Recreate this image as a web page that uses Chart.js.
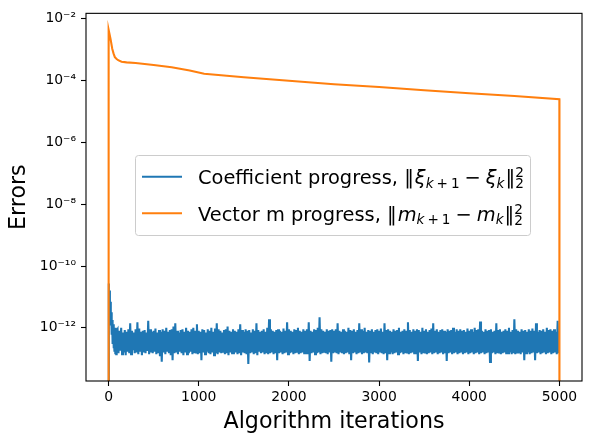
<!DOCTYPE html>
<html><head><meta charset="utf-8">
<script src="https://cdn.jsdelivr.net/npm/chart.js@4/dist/chart.umd.min.js"></script>
<style>html,body{margin:0;padding:0;background:#fff;}</style>
</head><body>
<canvas id="c" width="590" height="440"></canvas>
<script>
// ---- ticks & titles ----
const xTickValues = [0, 1000, 2000, 3000, 4000, 5000];
const yTickValues = [1e-2, 1e-4, 1e-6, 1e-8, 1e-10, 1e-12];
const yTickLabels = ['10⁻²', '10⁻⁴', '10⁻⁶', '10⁻⁸', '10⁻¹⁰', '10⁻¹²'];
const xTitle = 'Algorithm iterations';
const yTitle = 'Errors';
const seriesNames = ['Coefficient progress', 'Vector m progress'];
const seriesColors = ['#1f77b4', '#ff7f0e'];

// ---- orange: vector m progress (1e-20 = zero, below the axis floor) ----
const orangeIter = [0, 1, 10, 22, 41, 55, 70, 90, 107, 144, 200, 300, 500, 700, 900, 1060, 1500, 2000, 2500, 3000, 3500, 4000, 4500, 4999, 5000];
const orangeVals = [1e-20, 4.4e-3, 3.3e-3, 2.24e-3, 1.07e-3, 7.6e-4, 5.75e-4, 5.0e-4, 4.57e-4, 4.07e-4, 3.9e-4, 3.72e-4, 3.2e-4, 2.7e-4, 2.14e-4, 1.66e-4, 1.29e-4, 9.9e-5, 7.6e-5, 6.2e-5, 4.9e-5, 3.9e-5, 3.16e-5, 2.5e-5, 1e-20];

// ---- blue: coefficient progress, initial transient ----
const blueStartIter = [0, 1, 5, 10, 15, 20, 25, 30, 35, 40, 45, 50, 55, 60, 65, 70, 75, 80, 85, 90];
const blueStartVals = [1e-20, 2.7e-11, 4e-12, 1.6e-11, 2.5e-12, 7e-12, 1.2e-12, 3.2e-12, 6e-13, 1.8e-12, 3e-13, 1.3e-12, 2.2e-13, 1.1e-12, 1.8e-13, 9e-13, 1.5e-13, 1.0e-12, 1.4e-13, 8e-13];

// ---- blue: noise floor, sampled every 10 iterations from 100 to 4990 ----
const blueNoiseStart = 100;
const blueNoiseStep = 10;
const blueNoiseVals = [
9e-13,1.5e-13,8e-13,1.8e-13,1.0e-12,1.4e-13,7e-13,1.6e-13,8.5e-13,1.3e-13,
7.5e-13,1.7e-13,9e-13,1.5e-13,1.4e-12,1.4e-13,8e-13,1.9e-13,7e-13,1.5e-13,
9e-13,1.6e-13,1.5e-12,1.4e-13,9.5e-13,1.7e-13,7.5e-13,1.3e-13,8e-13,1.6e-13,
8.5e-13,1.5e-13,7e-13,1.8e-13,1.7e-12,1.4e-13,9e-13,1.6e-13,7.5e-13,1.5e-13,
8e-13,1.7e-13,9.5e-13,1.4e-13,7e-13,1.5e-13,8.5e-13,1.2e-13,7.5e-13,8e-14,
9e-13,1.6e-13,8e-13,1.4e-13,1.0e-12,1.7e-13,7.5e-13,1.5e-13,8.5e-13,1.3e-13,
9e-13,9e-14,1.1e-12,1.5e-13,1.4e-12,1.6e-13,8e-13,1.4e-13,7e-13,1.7e-13,
8.5e-13,1.5e-13,9e-13,1.3e-13,7.5e-13,1.6e-13,1.0e-12,1.4e-13,8e-13,1.5e-13,
7.5e-13,1.7e-13,9e-13,1.4e-13,1.0e-12,1.5e-13,8e-13,1.6e-13,1.3e-12,1.4e-13,
8e-13,1.5e-13,7.5e-13,9e-14,9e-13,1.6e-13,8.5e-13,1.4e-13,7e-13,1.7e-13,
9e-13,1.5e-13,8e-13,1.4e-13,1.0e-12,1.6e-13,7.5e-13,1.3e-13,9.5e-13,1.5e-13,
1.4e-12,1.4e-13,9e-13,1.6e-13,8e-13,1.5e-13,7e-13,1.7e-13,8.5e-13,1.4e-13,
9e-13,1.5e-13,1.1e-12,1.3e-13,8e-13,1.6e-13,7.5e-13,1.5e-13,9e-13,1.4e-13,
8e-13,1.6e-13,7.5e-13,1.4e-13,9e-13,1.5e-13,1.3e-12,1.3e-13,8.5e-13,1.6e-13,
7.5e-13,1.5e-13,9e-13,1.4e-13,8e-13,6.8e-14,8.5e-13,1.5e-13,7e-13,1.6e-13,
9e-13,1.4e-13,8e-13,1.5e-13,1.4e-12,1.3e-13,8.5e-13,1.7e-13,7.5e-13,1.5e-13,
8e-13,1.6e-13,9e-13,1.4e-13,7.5e-13,1.5e-13,1.0e-12,1.4e-13,1.9e-12,1.5e-13,
9e-13,1.6e-13,8e-13,1.4e-13,7.5e-13,1.5e-13,8.5e-13,9e-14,9e-13,1.5e-13,
8e-13,1.6e-13,7.5e-13,1.4e-13,9.5e-13,1.5e-13,8e-13,1.6e-13,1.5e-12,1.4e-13,
9e-13,1.5e-13,8e-13,1.6e-13,7.5e-13,1.4e-13,9e-13,1.5e-13,8.5e-13,1.7e-13,
1.0e-12,1.4e-13,8e-13,1.5e-13,7.5e-13,1.6e-13,9e-13,1.4e-13,8e-13,1.5e-13,
9e-13,1.4e-13,1.5e-12,8.5e-14,8e-13,1.5e-13,7.5e-13,1.6e-13,9e-13,1.4e-13,
8.5e-13,1.5e-13,1.0e-12,1.6e-13,2.2e-12,1.4e-13,9e-13,1.5e-13,8e-13,1.7e-13,
7.5e-13,1.5e-13,9e-13,1.4e-13,8e-13,1.6e-13,8.5e-13,8e-14,9e-13,1.5e-13,
8e-13,1.6e-13,9e-13,1.5e-13,1.4e-12,1.4e-13,8e-13,1.6e-13,7.5e-13,1.5e-13,
9e-13,1.4e-13,8e-13,1.5e-13,7.5e-13,1.6e-13,1.0e-12,1.4e-13,8.5e-13,9e-14,
8e-13,1.5e-13,9e-13,1.6e-13,7.5e-13,1.4e-13,8.5e-13,1.5e-13,1.4e-12,1.6e-13,
9e-13,1.4e-13,8e-13,1.5e-13,1.0e-12,1.6e-13,7.5e-13,1.5e-13,8.5e-13,7.5e-14,
8e-13,1.5e-13,9e-13,1.4e-13,7.5e-13,1.6e-13,8.5e-13,1.5e-13,9e-13,1.4e-13,
8e-13,1.6e-13,9.5e-13,1.5e-13,7.5e-13,1.4e-13,1.4e-12,1.5e-13,8.5e-13,9e-14,
9e-13,1.5e-13,8e-13,1.6e-13,7.5e-13,1.4e-13,9e-13,1.5e-13,8e-13,1.6e-13,
8.5e-13,1.4e-13,1.0e-12,1.5e-13,7.5e-13,1.6e-13,8e-13,1.4e-13,9e-13,1.5e-13,
8e-13,1.6e-13,1.5e-12,1.4e-13,8.5e-13,1.5e-13,7.5e-13,1.6e-13,9e-13,1.4e-13,
8e-13,1.5e-13,9e-13,8.5e-14,8.5e-13,1.6e-13,7.5e-13,1.4e-13,1.0e-12,1.5e-13,
8e-13,1.6e-13,9e-13,1.4e-13,7.5e-13,1.5e-13,8.5e-13,1.6e-13,9.5e-13,1.4e-13,
1.4e-12,1.5e-13,8e-13,1.6e-13,9e-13,1.4e-13,7.5e-13,1.5e-13,8.5e-13,1.6e-13,
9e-13,1.4e-13,8e-13,1.5e-13,7.5e-13,8.5e-14,9e-13,1.5e-13,8e-13,1.6e-13,
8.5e-13,1.4e-13,1.0e-12,1.5e-13,7.5e-13,1.6e-13,9e-13,1.4e-13,8e-13,1.5e-13,
9e-13,1.6e-13,8e-13,1.4e-13,8.5e-13,1.5e-13,7.5e-13,1.6e-13,9.5e-13,1.4e-13,
8e-13,1.5e-13,9e-13,1.6e-13,7.5e-13,1.4e-13,1.0e-12,1.5e-13,8.5e-13,1.6e-13,
9e-13,1.4e-13,1.6e-12,1.5e-13,8e-13,1.6e-13,7.5e-13,1.4e-13,9e-13,1.5e-13,
8e-13,1.6e-13,8.5e-13,7.8e-14,9e-13,1.5e-13,7.5e-13,1.6e-13,8e-13,1.4e-13,
1.4e-12,1.5e-13,8.5e-13,1.6e-13,9e-13,1.4e-13,7.5e-13,1.5e-13,8e-13,1.6e-13,
9e-13,1.4e-13,8e-13,1.5e-13,1.0e-12,1.6e-13,7.5e-13,1.4e-13,8.5e-13,1.5e-13,
1.9e-12,1.4e-13,9e-13,1.6e-13,8e-13,1.5e-13,7.5e-13,1.4e-13,9e-13,1.6e-13,
8e-13,9e-14,8.5e-13,1.5e-13,7.5e-13,1.6e-13,9e-13,1.4e-13,8e-13,1.5e-13,
9.5e-13,1.6e-13,8e-13,9e-14,1.4e-12,1.5e-13,7.5e-13,1.6e-13,8.5e-13,1.4e-13,
8e-13,1.5e-13,9e-13,1.6e-13,7.5e-13,1.4e-13,1.0e-12,1.5e-13,8.5e-13,1.6e-13,
9e-13,1.4e-13,8e-13,1.5e-13,9e-13,1.6e-13,7.5e-13,1.4e-13,1.7e-12,1.5e-13
];

// ---- legend label pieces: [text, style(n/i), position, gap before] ----
const legendPieces = [
  [['Coefficient progress, ','n','',0],['‖','n','',0],['ξ','i','',1],['k','i','sub',0],['+','n','sub',3],['1','n','sub',3],['−','n','',5],['ξ','i','',5],['k','i','sub',0],['‖','n','',1],['2','n','supsub',0]],
  [['Vector m progress, ','n','',0],['‖','n','',0],['m','i','',1],['k','i','sub',0],['+','n','sub',3],['1','n','sub',3],['−','n','',5],['m','i','',5],['k','i','sub',0],['‖','n','',1],['2','n','supsub',0]]
];

// ---- build datasets ----
const blueData = blueStartIter.map((x, i) => ({x: x, y: blueStartVals[i]}))
  .concat(blueNoiseVals.map((v, i) => ({x: blueNoiseStart + i * blueNoiseStep, y: v})));
const orangeData = orangeIter.map((x, i) => ({x: x, y: orangeVals[i]}));

const FONT = 'DejaVu Sans';
const LW = 2.08;

const framePlugin = {
  id: 'frame',
  afterDatasetsDraw(chart) {
    const {ctx, chartArea: a} = chart;
    ctx.save();
    ctx.strokeStyle = '#000';
    ctx.lineWidth = 1.1;
    ctx.strokeRect(a.left, a.top, a.right - a.left, a.bottom - a.top);
    ctx.restore();
  }
};

function drawPieces(ctx, pieces, x, baseline, size) {
  for (const [t, st, pos, gap] of pieces) {
    x += gap || 0;
    const fs = pos ? size * 0.7 : size;
    ctx.font = (st === 'i' ? 'italic ' : '') + fs + 'px "' + FONT + '"';
    if (pos === 'supsub') {
      ctx.fillText(t, x, baseline - size * 0.36);
      ctx.fillText(t, x, baseline + size * 0.22);
    } else {
      ctx.fillText(t, x, baseline + (pos === 'sub' ? size * 0.2 : 0));
    }
    x += ctx.measureText(t).width;
  }
}

const legendPlugin = {
  id: 'mplLegend',
  afterDraw(chart) {
    const ctx = chart.ctx;
    ctx.save();
    const bx = 135.5, by = 155.5, bw = 395, bh = 80, r = 3;
    ctx.beginPath();
    ctx.moveTo(bx + r, by);
    ctx.arcTo(bx + bw, by, bx + bw, by + bh, r);
    ctx.arcTo(bx + bw, by + bh, bx, by + bh, r);
    ctx.arcTo(bx, by + bh, bx, by, r);
    ctx.arcTo(bx, by, bx + bw, by, r);
    ctx.closePath();
    ctx.fillStyle = 'rgba(255,255,255,0.8)';
    ctx.fill();
    ctx.strokeStyle = '#cccccc';
    ctx.lineWidth = 1;
    ctx.stroke();
    const rowsY = [176.7, 213.3];
    const baselines = [183.8, 220.5];
    for (let i = 0; i < 2; i++) {
      ctx.strokeStyle = seriesColors[i];
      ctx.lineWidth = LW;
      ctx.beginPath();
      ctx.moveTo(142, rowsY[i]);
      ctx.lineTo(182, rowsY[i]);
      ctx.stroke();
      ctx.fillStyle = '#000';
      ctx.textAlign = 'left';
      ctx.textBaseline = 'alphabetic';
      drawPieces(ctx, legendPieces[i], 198, baselines[i], 19.4);
    }
    ctx.restore();
  }
};

new Chart(document.getElementById('c'), {
  type: 'line',
  data: {
    datasets: [
      {label: seriesNames[0], data: blueData, borderColor: seriesColors[0], backgroundColor: seriesColors[0], borderWidth: LW, pointRadius: 0, order: 1},
      {label: seriesNames[1], data: orangeData, borderColor: seriesColors[1], backgroundColor: seriesColors[1], borderWidth: LW, pointRadius: 0, order: 0}
    ]
  },
  options: {
    responsive: false,
    animation: false,
    devicePixelRatio: 1,
    layout: {padding: {left: 0, right: 8, top: 11, bottom: 0}},
    plugins: {legend: {display: false}, tooltip: {enabled: false}},
    elements: {line: {tension: 0}},
    scales: {
      x: {
        type: 'linear', min: -250, max: 5250,
        afterBuildTicks: s => { s.ticks = xTickValues.map(v => ({value: v})); },
        afterFit: s => { s.height = 59; },
        grid: {display: true, drawOnChartArea: false, drawTicks: true, tickLength: 5, tickColor: '#000', tickWidth: 1.1},
        border: {display: false},
        ticks: {color: '#000', font: {family: FONT, size: 13.9}, padding: 3, maxRotation: 0, autoSkip: false, callback: v => String(v)},
        title: {display: true, text: xTitle, color: '#000', font: {family: FONT, size: 22.2}, padding: {top: 0, bottom: 4}}
      },
      y: {
        type: 'logarithmic', min: 1.9e-14, max: 1.503e-2,
        afterBuildTicks: s => { s.ticks = yTickValues.map(v => ({value: v})); },
        afterFit: s => { s.width = 86; },
        grid: {display: true, drawOnChartArea: false, drawTicks: true, tickLength: 5, tickColor: '#000', tickWidth: 1.1},
        border: {display: false},
        ticks: {color: '#000', font: {family: FONT, size: 13.9}, padding: 5, autoSkip: false,
          callback: (v, i) => yTickLabels[yTickValues.indexOf(v)] ?? ''},
        title: {display: true, text: yTitle, color: '#000', font: {family: FONT, size: 22.2}, padding: {top: 6, bottom: 0}}
      }
    }
  },
  plugins: [framePlugin, legendPlugin]
});
</script>
</body></html>
